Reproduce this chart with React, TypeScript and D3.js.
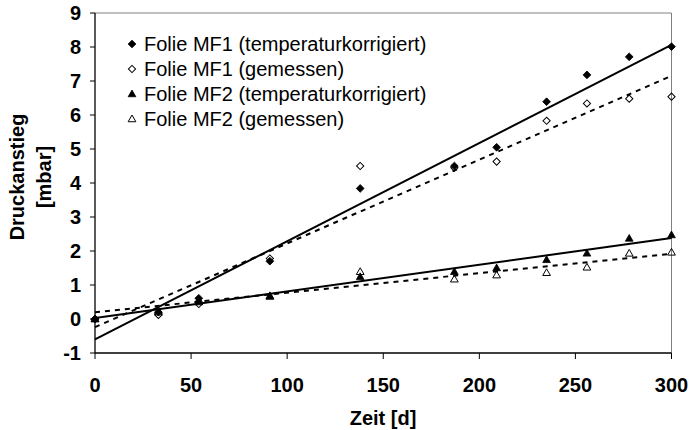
import React from "react";
import * as d3 from "d3";

const days = [0, 33, 54, 91, 138, 187, 209, 235, 256, 278, 300];
const mf1Temp = [0, 0.2, 0.61, 1.7, 3.84, 4.5, 5.05, 6.39, 7.18, 7.71, 8.01];
const mf1Mess = [0, 0.12, 0.44, 1.78, 4.5, 4.45, 4.63, 5.83, 6.34, 6.48, 6.54];
const mf2Temp = [0, 0.24, 0.56, 0.66, 1.24, 1.39, 1.5, 1.74, 1.93, 2.37, 2.47];
const mf2Mess = [0, 0.2, 0.5, 0.68, 1.39, 1.17, 1.29, 1.36, 1.52, 1.93, 1.96];

// trend lines: value at day 0 and day 300
const trendStart = [-0.6, -0.24, 0.03, 0.2];
const trendEnd = [8.06, 7.15, 2.38, 1.92];

const seriesNames = [
  "Folie MF1 (temperaturkorrigiert)",
  "Folie MF1 (gemessen)",
  "Folie MF2 (temperaturkorrigiert)",
  "Folie MF2 (gemessen)",
];
const seriesValues = [mf1Temp, mf1Mess, mf2Temp, mf2Mess];
const seriesMarkers = ["diamond", "diamond", "triangle", "triangle"];
const seriesFilled = [true, false, true, false];
const seriesDashed = [false, true, false, true];

const xTicks = [0, 50, 100, 150, 200, 250, 300];
const yTicks = [-1, 0, 1, 2, 3, 4, 5, 6, 7, 8, 9];

const xTitle = "Zeit [d]";
const yTitle = ["Druckanstieg", "[mbar]"];

const W = 690;
const H = 430;
const L = 95;
const R = 671.5;
const T = 13;
const B = 353;
const FONT = "'Liberation Sans', Arial, Helvetica, sans-serif";

const x = d3.scaleLinear().domain([0, 300]).range([L, R]);
const y = d3.scaleLinear().domain([-1, 9]).range([B, T]);

function Marker({ kind, filled, cx, cy }: { kind: string; filled: boolean; cx: number; cy: number }) {
  if (kind === "diamond") {
    const size = filled ? 30 : 26;
    const d = d3.symbol().type(d3.symbolSquare).size(size)() as string;
    return (
      <path
        d={d}
        transform={`translate(${cx},${cy}) rotate(45)`}
        fill={filled ? "#000" : "none"}
        stroke="#000"
        strokeWidth={filled ? 0.8 : 1}
      />
    );
  }
  const size = filled ? 26 : 26;
  const d = d3.symbol().type(d3.symbolTriangle).size(size)() as string;
  return (
    <path
      d={d}
      transform={`translate(${cx},${cy + 0.5})`}
      fill={filled ? "#000" : "none"}
      stroke="#000"
      strokeWidth={filled ? 0.8 : 1}
    />
  );
}

export default function App() {
  const line = d3
    .line<[number, number]>()
    .x((d) => x(d[0]))
    .y((d) => y(d[1]));
  const legendY = [44, 69, 94, 119];
  return (
    <svg
      width={W}
      height={H}
      viewBox={`0 0 ${W} ${H}`}
      style={{ position: "absolute", left: 0, top: 0, background: "#fff" }}
      fontFamily={FONT}
    >
      <rect x={0} y={0} width={W} height={H} fill="#fff" />
      {/* plot frame */}
      <line x1={L} x2={R} y1={T} y2={T} stroke="#808080" strokeWidth={1} />
      <line x1={R} x2={R} y1={T} y2={B} stroke="#808080" strokeWidth={1} />

      {/* markers */}
      {seriesValues.map((vals, si) =>
        vals.map((v, i) => (
          <Marker
            key={`m${si}-${i}`}
            kind={seriesMarkers[si]}
            filled={seriesFilled[si]}
            cx={x(days[i])}
            cy={y(v)}
          />
        ))
      )}

      {/* trend lines */}
      {trendStart.map((s, i) => (
        <path
          key={`t${i}`}
          d={line([
            [0, s],
            [300, trendEnd[i]],
          ]) as string}
          fill="none"
          stroke="#000"
          strokeWidth={2}
          strokeDasharray={seriesDashed[i] ? "5,5" : undefined}
        />
      ))}

      {/* axes */}
      <line x1={L} x2={L} y1={T} y2={B} stroke="#000" strokeWidth={1.3} />
      <line x1={L} x2={R} y1={B} y2={B} stroke="#000" strokeWidth={1.3} />
      {yTicks.map((t) => (
        <g key={`yt${t}`}>
          <line x1={L - 5} x2={L} y1={y(t)} y2={y(t)} stroke="#000" strokeWidth={1} />
          <text
            x={81}
            y={y(t)}
            dy="0.36em"
            textAnchor="end"
            fontSize={20}
            fontWeight="bold"
            fill="#000"
          >
            {String(t)}
          </text>
        </g>
      ))}
      {xTicks.map((t) => (
        <g key={`xt${t}`}>
          <line x1={x(t)} x2={x(t)} y1={B} y2={B + 6} stroke="#000" strokeWidth={1} />
          <text x={x(t)} y={392} textAnchor="middle" fontSize={20} fontWeight="bold" fill="#000">
            {String(t)}
          </text>
        </g>
      ))}

      {/* axis titles */}
      <text x={383} y={425} textAnchor="middle" fontSize={20} fontWeight="bold" fill="#000">
        {xTitle}
      </text>
      <g transform="translate(0,177) rotate(-90)">
        <text x={0} y={24} textAnchor="middle" fontSize={20} fontWeight="bold" fill="#000">
          {yTitle[0]}
        </text>
        <text x={0} y={51} textAnchor="middle" fontSize={20} fontWeight="bold" fill="#000">
          {yTitle[1]}
        </text>
      </g>

      {/* legend */}
      {seriesNames.map((name, i) => (
        <g key={`l${i}`}>
          <Marker kind={seriesMarkers[i]} filled={seriesFilled[i]} cx={132} cy={legendY[i]} />
          <text x={144} y={legendY[i]} dy="0.36em" fontSize={20} fill="#000">
            {name}
          </text>
        </g>
      ))}
    </svg>
  );
}
